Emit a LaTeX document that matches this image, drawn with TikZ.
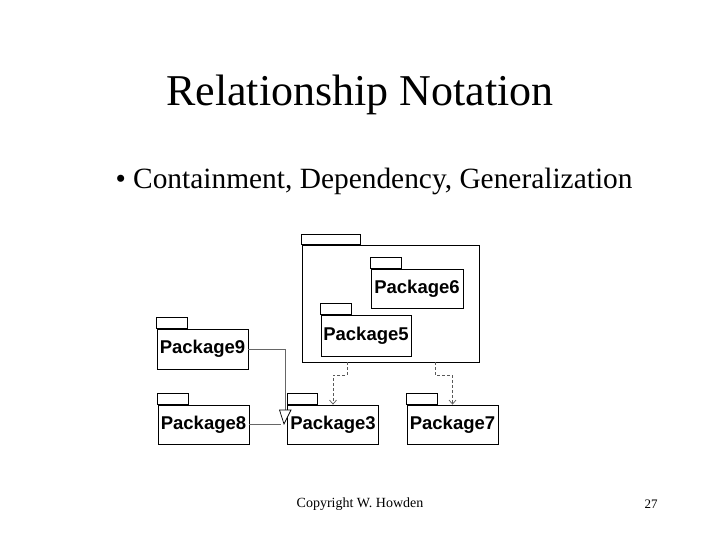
\documentclass[tikz,border=0pt]{standalone}
\usepackage{fontspec}
\setmainfont{Liberation Serif}
\setsansfont{Liberation Sans}
\usetikzlibrary{arrows.meta, positioning}

\begin{document}
\begin{tikzpicture}[
    x=1pt, y=-1pt,
    pkg/.style={rectangle, draw, line width=0.8pt, fill=white, minimum width=91pt, minimum height=40pt, inner sep=0pt, font=\sffamily\bfseries\fontsize{18.5}{20}\selectfont},
    tab/.style={draw, line width=0.8pt, fill=white},
    dep/.style={-{Straight Barb[length=4pt, width=7pt]}, dashed, dash pattern=on 3pt off 2pt, gray!70!black, line width=0.7pt},
    gen/.style={draw, gray!80!black, line width=0.7pt}
]
    \useasboundingbox (0,0) rectangle (720,540);
    % Title and bullet
    \node (title) at (360,95) {\fontsize{44}{48}\selectfont Relationship Notation};
    \node[anchor=west] (bullet) at (112,181) {\fontsize{29.4}{34}\selectfont \textbullet\ Containment, Dependency, Generalization};
    % Containing package
    \node[pkg, minimum width=177pt, minimum height=117pt] (big) at (390.5,303.5) {};
    \draw[tab] (big.north west) rectangle ++(59pt,10.5pt);
    \node[pkg, minimum width=92pt, minimum height=39pt] (p6) at (417,288.5) {Package6};
    \node[pkg, minimum width=90pt, minimum height=41pt] (p5) at (366,335.5) {Package5};
    % Outside packages
    \node[pkg] (p9) at (202.5,349) {Package9};
    \node[pkg, minimum height=39pt] (p8) at (203.5,424.5) {Package8};
    \node[pkg, minimum height=39pt] (p3) at (333,424.5) {Package3};
    \node[pkg, minimum height=39pt] (p7) at (452.5,424.5) {Package7};
    \foreach \p in {p6, p5, p9, p8, p3, p7} { \draw[tab] (\p.north west) rectangle ++(30.5pt,11pt); }
    % Generalization
    \coordinate (gtop) at (285,410);
    \draw[gen] (p9.east) -| (gtop);
    \draw[gen] (p8.east) -- ++(32,0);
    \draw[line width=0.7pt, fill=white] (279.5,410) -- (291,410) -- (284,424) -- cycle;
    % Dependencies
    \draw[dep] ([xshift=-43.5pt]big.south) -- ++(0,13) -| (p3.north);
    \draw[dep] ([xshift=44.5pt]big.south) -- ++(0,13) -| (p7.north);
    % Footer
    \node (copy) at (360,504) {\fontsize{14}{16}\selectfont Copyright W. Howden};
    \node (page) at (651,504) {\fontsize{13}{15}\selectfont 27};
\end{tikzpicture}
\end{document}
